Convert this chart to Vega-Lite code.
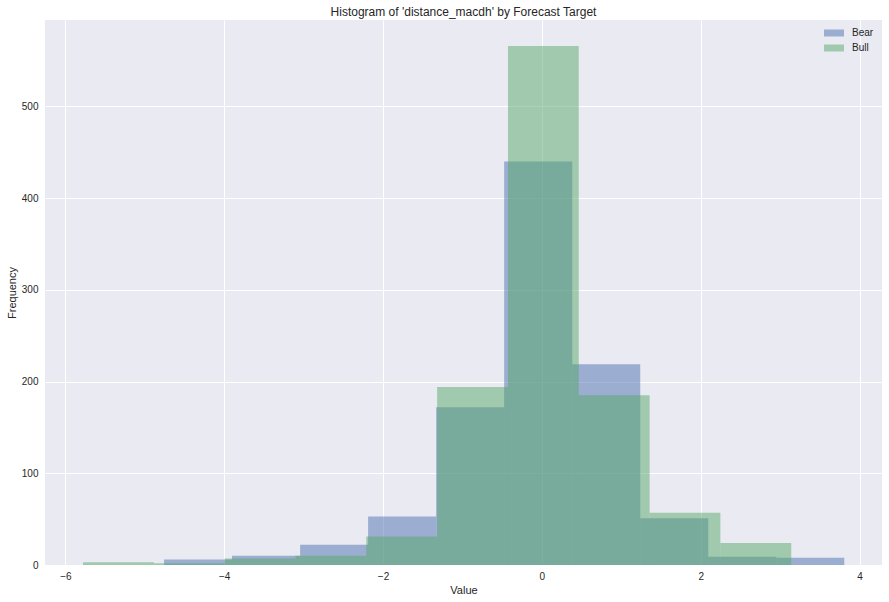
{
  "$schema": "https://vega.github.io/schema/vega-lite/v6.json",
  "autosize": "none",
  "width": 837,
  "height": 545,
  "padding": {"left": 45, "top": 20, "right": 7, "bottom": 37},
  "background": "white",
  "title": {"text": "Histogram of 'distance_macdh' by Forecast Target", "fontSize": 12, "fontWeight": "normal", "font": "Liberation Sans", "color": "#262626", "offset": 1},
  "config": {
    "view": {"fill": "#EAEAF2", "stroke": null},
    "font": "Liberation Sans",
    "axis": {"grid": true, "gridColor": "white", "gridWidth": 1, "domain": false, "ticks": false, "labelFont": "Liberation Sans", "labelFontSize": 10, "labelColor": "#262626", "titleFont": "Liberation Sans", "titleFontSize": 11, "titleFontWeight": "normal", "titleColor": "#262626"}
  },
  "data": {
    "values": [
      {"target": "Bear", "x0": -4.757, "x1": -3.901, "count": 6},
      {"target": "Bear", "x0": -3.901, "x1": -3.044, "count": 10},
      {"target": "Bear", "x0": -3.044, "x1": -2.188, "count": 22},
      {"target": "Bear", "x0": -2.188, "x1": -1.331, "count": 53},
      {"target": "Bear", "x0": -1.331, "x1": -0.475, "count": 172},
      {"target": "Bear", "x0": -0.475, "x1": 0.382, "count": 440},
      {"target": "Bear", "x0": 0.382, "x1": 1.238, "count": 219},
      {"target": "Bear", "x0": 1.238, "x1": 2.094, "count": 51},
      {"target": "Bear", "x0": 2.094, "x1": 2.951, "count": 9},
      {"target": "Bear", "x0": 2.951, "x1": 3.807, "count": 8},
      {"target": "Bull", "x0": -5.777, "x1": -4.885, "count": 3},
      {"target": "Bull", "x0": -4.885, "x1": -3.994, "count": 2},
      {"target": "Bull", "x0": -3.994, "x1": -3.102, "count": 7},
      {"target": "Bull", "x0": -3.102, "x1": -2.211, "count": 10},
      {"target": "Bull", "x0": -2.211, "x1": -1.319, "count": 31},
      {"target": "Bull", "x0": -1.319, "x1": -0.427, "count": 194},
      {"target": "Bull", "x0": -0.427, "x1": 0.464, "count": 566},
      {"target": "Bull", "x0": 0.464, "x1": 1.356, "count": 185},
      {"target": "Bull", "x0": 1.356, "x1": 2.247, "count": 57},
      {"target": "Bull", "x0": 2.247, "x1": 3.139, "count": 24}
    ]
  },
  "mark": {"type": "rect", "opacity": 0.5, "strokeWidth": 0},
  "encoding": {
    "x": {"field": "x0", "type": "quantitative", "title": "Value",
      "scale": {"domain": [-6.256, 4.282], "nice": false, "zero": false},
      "axis": {"values": [-6, -4, -2, 0, 2, 4], "labelPadding": 6, "titlePadding": 3}},
    "x2": {"field": "x1"},
    "y": {"field": "count", "type": "quantitative", "title": "Frequency",
      "scale": {"domain": [0, 594.3], "nice": false},
      "axis": {"values": [0, 100, 200, 300, 400, 500], "labelPadding": 7, "titlePadding": 4}},
    "y2": {"datum": 0},
    "color": {"field": "target", "type": "nominal", "title": null,
      "scale": {"domain": ["Bear", "Bull"], "range": ["#4C72B0", "#55A868"]},
      "legend": {"orient": "none", "legendX": 779, "legendY": 3, "symbolType": "M-1,-0.35L1,-0.35L1,0.35L-1,0.35Z", "symbolSize": 400, "symbolOpacity": 0.5, "symbolStrokeWidth": 0, "labelFontSize": 10, "labelFont": "Liberation Sans", "labelColor": "#262626", "rowPadding": -6, "labelOffset": 8}}
  }
}
